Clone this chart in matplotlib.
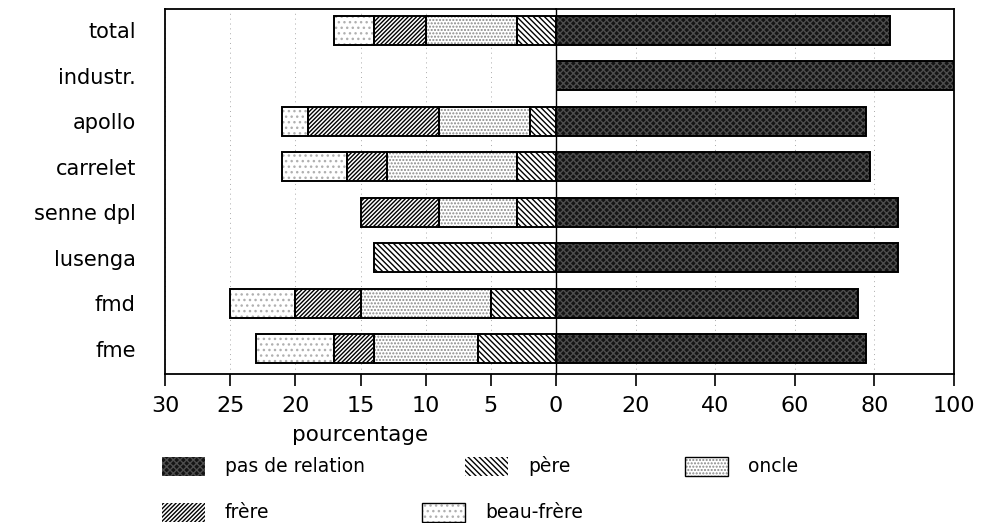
import matplotlib
matplotlib.use('Agg')
import matplotlib.pyplot as plt
from matplotlib.patches import Rectangle
import numpy as np

plt.rcParams['font.family'] = ['DejaVu Sans']
plt.rcParams['hatch.linewidth'] = 1.0

# data (pourcentage)
categories = ['total', 'industr.', 'apollo', 'carrelet', 'senne dpl', 'lusenga', 'fmd', 'fme']
pas_de_relation = [84, 100, 78, 79, 86, 86, 76, 78]
pere = [3, 0, 2, 3, 3, 14, 5, 6]
oncle = [7, 0, 7, 10, 6, 0, 10, 8]
frere = [4, 0, 10, 3, 6, 0, 5, 3]
beau_frere = [3, 0, 2, 5, 0, 0, 5, 6]

left_ticks = [30, 25, 20, 15, 10, 5, 0]
right_ticks = [20, 40, 60, 80, 100]

styles = {
    'pas de relation': dict(facecolor='#141414', hatch='xxxxx', hcolor='#4d4d4d'),
    'père': dict(facecolor='white', hatch='\\\\\\\\\\\\', hcolor='black'),
    'oncle': dict(facecolor='white', hatch='.....', hcolor='#888888'),
    'frère': dict(facecolor='white', hatch='////////', hcolor='black'),
    'beau-frère': dict(facecolor='white', hatch='...', hcolor='#b0b0b0'),
}


def draw_bar(ax, y, width, left, name, h):
    st = styles[name]
    ax.barh(y, width, left=left, height=h, color=st['facecolor'],
            hatch=st['hatch'], edgecolor=st['hcolor'], linewidth=0, zorder=2)
    ax.barh(y, width, left=left, height=h, fill=False,
            edgecolor='black', linewidth=1.4, zorder=3)


fig = plt.figure(figsize=(9.84, 5.23), dpi=100)
x0, xm, x1 = 165 / 984, 556 / 984, 954 / 984
y0, y1 = 1 - 374 / 523, 1 - 9 / 523
axl = fig.add_axes([x0, y0, xm - x0, y1 - y0])
axr = fig.add_axes([xm, y0, x1 - xm, y1 - y0], sharey=axl)

y = np.arange(len(categories))
h = 0.64

left_parts = [('père', pere), ('oncle', oncle), ('frère', frere), ('beau-frère', beau_frere)]
start = np.zeros(len(categories))
for name, vals in left_parts:
    vals = np.array(vals, dtype=float)
    for i in range(len(categories)):
        if vals[i] > 0:
            draw_bar(axl, y[i], vals[i], start[i], name, h)
    start += vals

for i in range(len(categories)):
    draw_bar(axr, y[i], pas_de_relation[i], 0, 'pas de relation', h)

axl.set_xlim(30, 0)
axr.set_xlim(0, 100)
axl.set_ylim(7.56, -0.47)

axl.set_xticks(left_ticks)
axl.set_xticklabels([str(t) for t in left_ticks])
axr.set_xticks(right_ticks)
axr.set_xticklabels([str(t) for t in right_ticks])

axl.set_yticks(y)
axl.set_yticklabels(categories, fontsize=15)
axl.tick_params(axis='y', length=0, pad=21)
plt.setp(axr.get_yticklabels(), visible=False)
axr.tick_params(axis='y', length=0)

for ax in (axl, axr):
    ax.tick_params(axis='x', direction='out', length=8.6, width=1.2,
                   labelsize=16, pad=7)
    for t in ax.get_xticks():
        ax.axvline(t, color='#aaaaaa', linestyle=(0, (1, 4)), linewidth=0.7, zorder=1)
    for s in ax.spines.values():
        s.set_linewidth(1.3)

axl.spines['right'].set_visible(False)
axr.spines['left'].set_linewidth(1.0)

axl.set_xlabel('pourcentage', fontsize=15.5, labelpad=7)

# legend drawn below the axes
legend_items = [
    ('pas de relation', 162, 457),
    ('père', 465, 457),
    ('oncle', 685, 457),
    ('frère', 162, 503),
    ('beau-frère', 422, 503),
]
for name, px, py in legend_items:
    st = styles[name]
    w, hh = 43 / 984, 19 / 523
    fx, fy = px / 984, 1 - (py + 19) / 523
    fig.add_artist(Rectangle((fx, fy), w, hh, transform=fig.transFigure,
                             facecolor=st['facecolor'], hatch=st['hatch'],
                             edgecolor=st['hcolor'], linewidth=0))
    if name in ('oncle', 'beau-frère'):
        fig.add_artist(Rectangle((fx, fy), w, hh, transform=fig.transFigure,
                                 fill=False, edgecolor='black', linewidth=1.0))
    fig.text(fx + w + 20 / 984, fy + hh / 2, name, fontsize=13.5, va='center', ha='left')

fig.savefig('out.png', dpi=100)
